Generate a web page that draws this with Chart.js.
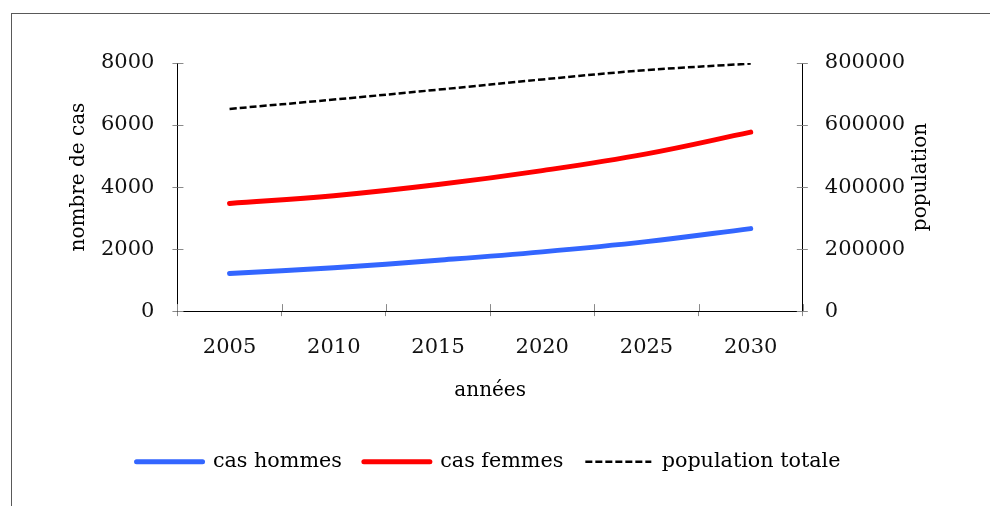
<!DOCTYPE html>
<html>
<head>
<meta charset="utf-8">
<script src="https://cdn.jsdelivr.net/npm/chart.js@4/dist/chart.umd.min.js"></script>
<style>
    body { margin: 0; background: #fff; }
    #wrap { position: relative; width: 990px; height: 506px; }
    #frame { position: absolute; left: 11px; top: 13px; right: 0; bottom: 0; border-left: 1px solid #595959; border-top: 1px solid #595959; }
    canvas { position: absolute; left: 0; top: 0; }
</style>
</head>
<body>
<div id="wrap">
    <div id="frame"></div>
    <canvas id="chart" width="990" height="506"></canvas>
</div>
<script>
const years = ["2005", "2010", "2015", "2020", "2025", "2030"];
const casHommes = [1210, 1400, 1640, 1910, 2240, 2660];
const casFemmes = [3470, 3720, 4080, 4530, 5070, 5770];
const populationTotale = [652000, 682000, 714000, 747000, 777000, 798000];

const SERIF = "'DejaVu Serif', serif";
const FONT = { family: SERIF, size: 20 };
const TICK_FONT = { family: SERIF, size: 21 };
const LEGEND_FONT = { family: SERIF, size: 20.7 };
const TICK_COLOR = "#8a8a8a";

// inner half of the tick marks (Chart.js only draws the outer half)
// plus both y titles reading bottom-to-top, a bit above centre like the original
const axisExtras = {
    id: "axisExtras",
    afterLayout(chart) {
        // legend sits a little left of centre in the original
        chart.legend.left -= 12;
        chart.legend.right -= 12;
    },
    afterDraw(chart) {
        const { ctx, scales } = chart;
        const { x, y, y1 } = scales;
        ctx.save();
        ctx.strokeStyle = TICK_COLOR;
        ctx.lineWidth = 1;
        ctx.beginPath();
        y.ticks.forEach((t, i) => {
            const py = Math.round(y.getPixelForTick(i)) + 0.5;
            ctx.moveTo(y.right, py); ctx.lineTo(y.right + 6, py);
        });
        y1.ticks.forEach((t, i) => {
            const py = Math.round(y1.getPixelForTick(i)) + 0.5;
            ctx.moveTo(y1.left - 6, py); ctx.lineTo(y1.left, py);
        });
        const step = x.width / years.length;
        for (let i = 0; i <= years.length; i++) {
            const px = Math.round(x.left + i * step) + 0.5;
            ctx.moveTo(px, x.top - 7); ctx.lineTo(px, x.top);
        }
        ctx.stroke();

        ctx.fillStyle = "#000";
        ctx.font = `${FONT.size}px ${FONT.family}`;
        ctx.textAlign = "center";
        ctx.textBaseline = "middle";
        const midY = (y.top + y.bottom) / 2 - 10;
        [[y.left + 36, "nombre de cas"], [y1.right - 37, "population"]].forEach(([tx, label]) => {
            ctx.save();
            ctx.translate(tx, midY);
            ctx.rotate(-Math.PI / 2);
            ctx.fillText(label, 0, 0);
            ctx.restore();
        });
        ctx.restore();
    }
};

new Chart(document.getElementById("chart"), {
    type: "line",
    data: {
        labels: years,
        datasets: [
            { label: "cas hommes", data: casHommes, yAxisID: "y", borderColor: "#3366FF", backgroundColor: "#3366FF", borderWidth: 5, borderCapStyle: "round", tension: 0.4, pointRadius: 0 },
            { label: "cas femmes", data: casFemmes, yAxisID: "y", borderColor: "#FF0000", backgroundColor: "#FF0000", borderWidth: 5, borderCapStyle: "round", tension: 0.4, pointRadius: 0 },
            { label: "population totale", data: populationTotale, yAxisID: "y1", borderColor: "#000", backgroundColor: "#000", borderWidth: 2.5, borderDash: [7, 3], tension: 0.4, pointRadius: 0 }
        ]
    },
    options: {
        responsive: false,
        animation: false,
        layout: { padding: { left: 43, right: 32, top: 63, bottom: 24 } },
        plugins: {
            tooltip: { enabled: false },
            legend: {
                position: "bottom",
                labels: {
                    usePointStyle: true, pointStyle: "line", pointStyleWidth: 66, padding: 22, color: "#000", font: LEGEND_FONT,
                    generateLabels(chart) {
                        return Chart.defaults.plugins.legend.labels.generateLabels(chart).map((item) => {
                            const ds = chart.data.datasets[item.datasetIndex];
                            item.lineWidth = ds.borderWidth;
                            item.lineDash = ds.borderDash || [];
                            item.lineCap = ds.borderCapStyle || "butt";
                            item.strokeStyle = ds.borderColor;
                            return item;
                        });
                    }
                }
            }
        },
        scales: {
            x: {
                offset: true,
                grid: { offset: true, drawOnChartArea: false, tickLength: 5, color: TICK_COLOR },
                border: { color: "#000", width: 1 },
                ticks: { color: "#111", font: TICK_FONT, padding: 18.5 },
                title: { display: true, text: "années", color: "#000", font: FONT, padding: { top: 0, bottom: 27 } }
            },
            y: {
                position: "left",
                min: 0, max: 8000,
                grid: { drawOnChartArea: false, tickLength: 5, color: TICK_COLOR },
                border: { color: "#000", width: 1 },
                ticks: { stepSize: 2000, color: "#111", font: TICK_FONT, padding: 18, callback: (v) => String(v) },
                title: { display: true, text: "nombre de cas", color: "rgba(0,0,0,0)", font: FONT, padding: { top: 4, bottom: 12 } }
            },
            y1: {
                position: "right",
                min: 0, max: 800000,
                grid: { drawOnChartArea: false, tickLength: 5, color: TICK_COLOR },
                border: { color: "#000", width: 1 },
                ticks: { stepSize: 200000, color: "#111", font: TICK_FONT, padding: 17, callback: (v) => String(v) },
                title: { display: true, text: "population", color: "rgba(0,0,0,0)", font: FONT, padding: { top: 4, bottom: 8 } }
            }
        }
    },
    plugins: [axisExtras]
});
</script>
</body>
</html>
